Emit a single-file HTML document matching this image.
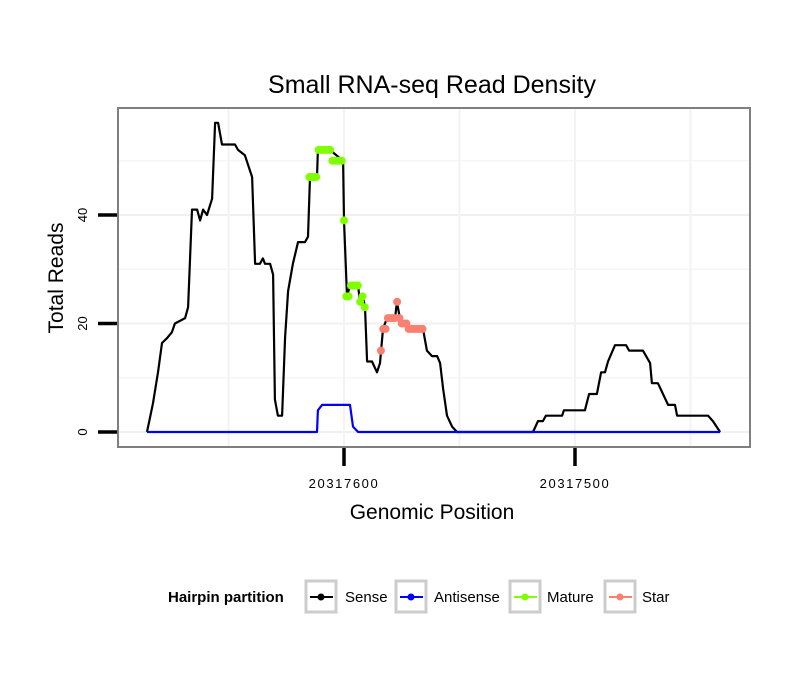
<!DOCTYPE html>
<html><head><meta charset="utf-8"><style>
body{margin:0;background:#fff;}
svg text{font-family:"Liberation Sans",sans-serif;}
</style></head><body>
<svg id="chart" width="810" height="690" xmlns="http://www.w3.org/2000/svg">
<rect width="810" height="690" fill="#fff"/>
<text x="432" y="93" font-size="25" text-anchor="middle">Small RNA-seq Read Density</text>
<g id="grid"></g>
<g id="series"></g>
<rect x="118" y="108" width="632" height="339" fill="none" stroke="#7f7f7f" stroke-width="2"/>
<g id="axes"></g>
<text x="432" y="519" font-size="21" text-anchor="middle">Genomic Position</text>
<text transform="translate(63,278) rotate(-90)" font-size="21" text-anchor="middle">Total Reads</text>
<g>
<text x="168" y="602" font-size="15" font-weight="bold">Hairpin partition</text>
<g><rect x="306" y="581" width="30" height="31" fill="#fff" stroke="#ccc" stroke-width="3"/><line x1="310" y1="597" x2="333" y2="597" stroke="#000" stroke-width="2"/><circle cx="321" cy="597" r="3.5" fill="#000"/><text x="345" y="602" font-size="15">Sense</text></g>
<g><rect x="396" y="581" width="30" height="31" fill="#fff" stroke="#ccc" stroke-width="3"/><line x1="400" y1="597" x2="423" y2="597" stroke="#00f" stroke-width="2"/><circle cx="411" cy="597" r="3.5" fill="#00f"/><text x="434" y="602" font-size="15">Antisense</text></g>
<g><rect x="510" y="581" width="30" height="31" fill="#fff" stroke="#ccc" stroke-width="3"/><line x1="514" y1="597" x2="537" y2="597" stroke="#7fff00" stroke-width="2"/><circle cx="525" cy="597" r="3.5" fill="#7fff00"/><text x="547" y="602" font-size="15">Mature</text></g>
<g><rect x="605" y="581" width="30" height="31" fill="#fff" stroke="#ccc" stroke-width="3"/><line x1="609" y1="597" x2="632" y2="597" stroke="#fa8072" stroke-width="2"/><circle cx="620" cy="597" r="3.5" fill="#fa8072"/><text x="642" y="602" font-size="15">Star</text></g>
</g>
</svg>
<script>
const B = 20317600;
const senseOff = [85.3,82.7,80.5,78.8,76.6,74.5,73.2,68.8,67.5,65.8,63.6,62.3,61.0,59.3,57.1,55.8,54.5,52.8,47.2,45.9,42.9,39.8,38.5,36.4,35.1,34.2,32.0,30.7,29.9,28.6,26.8,25.5,24.2,22.1,19.9,16.9,15.6,14.7,11.7,11.3,6.1,0.4,0,-1.3,-2.6,-6.1,-6.9,-8.2,-9.1,-10,-12.1,-14.3,-15.6,-16.9,-18.6,-22.1,-22.9,-24.2,-25.5,-28.6,-34.2,-35.9,-38.1,-40.3,-41.6,-42.9,-44.6,-46.8,-48.9,-81.8,-84,-86.1,-87.4,-94.4,-95.2,-104.3,-106.1,-109.5,-111.3,-113,-114.3,-117.3,-122.1,-123.4,-129.4,-132.5,-133.3,-135.9,-140.3,-143.3,-144.2,-157.6,-159.7,-162.8];
const senseVal = [0,5.3,11,16.4,17.3,18.4,20,21,23,41,41,39,41,40,43,57,57,53,53,52,51,47,31,31,32,31,31,29,6,3,3,17.5,26,31,35,35,36,47,47,52,52,50,39,25,27,27,24,25,23,13,13,11,12.7,19,21,21,24,21,20,19,19,15,14,14,12.7,8,3,1,0,0,2,2,3,3,4,4,7,7,11,11,13,16,16,15,15,12.7,9,9,5,5,3,3,2,0];
const antiOff = [85.3,11.7,11.3,9.5,-2.6,-3.9,-6.1,-162.8];
const antiVal = [0,0,4,5,5,1,0,0];
const matureOff = [15,14,13,12,11,10,9,8,7,6,5,4,3,2,1,0,-1,-2,-3,-4,-5,-6,-7,-8,-9];
const matureVal = [47,47,47,47,52,52,52,52,52,52,50,50,50,50,50,39,25,25,27,27,27,27,24,25,23];
const starOff = [-16,-17,-18,-19,-20,-21,-22,-23,-24,-25,-26,-27,-28,-29,-30,-31,-32,-33,-34];
const starVal = [15,19,19,21,21,21,21,24,21,20,20,20,19,19,19,19,19,19,19];
const yTicks = [0,20,40];
const xTicks = [20317600,20317500];
const yGrid = [0,10,20,30,40,50];
const xGrid = [20317650,20317600,20317550,20317500,20317450];

const NS = "http://www.w3.org/2000/svg";
const xs = p => 344 + (B - p) * 2.31;
const ys = v => 432 - v * 5.425;
function mk(tag, attrs, parent){const e=document.createElementNS(NS,tag);for(const k in attrs)e.setAttribute(k,attrs[k]);parent.appendChild(e);return e;}
const grid=document.getElementById('grid'), ser=document.getElementById('series'), ax=document.getElementById('axes');

yGrid.forEach(v=>{const l=mk('line',{x1:119,x2:749,y1:ys(v),y2:ys(v),stroke:v%20===0?'#f0f0f0':'#f6f6f6','stroke-width':v%20===0?2:1.5},grid);

});
xGrid.forEach(p=>{const l=mk('line',{x1:xs(p),x2:xs(p),y1:109,y2:446,stroke:'#f3f3f3','stroke-width':2},grid);

});

function line(off,val,color,name){
  const pts=off.map((o,i)=>xs(B+o).toFixed(1)+','+ys(val[i]).toFixed(1)).join(' ');
  const pl=mk('polyline',{points:pts,fill:'none',stroke:color,'stroke-width':2.2,'stroke-linejoin':'round'},ser);
  
  
}
line(senseOff,senseVal,'#000','sense-line');
line(antiOff,antiVal,'#00f','antisense-line');
function dots(off,val,color,name){
  off.forEach((o,i)=>{const c=mk('circle',{cx:xs(B+o),cy:ys(val[i]),r:4,fill:color},ser);
  
  });
}
dots(matureOff,matureVal,'#7fff00','mature-point');
dots(starOff,starVal,'#fa8072','star-point');

yTicks.forEach(v=>{
  const t=mk('line',{x1:98,x2:117,y1:ys(v),y2:ys(v),stroke:'#000','stroke-width':3.5},ax);
  
  
  const tx=mk('text',{transform:`translate(87,${ys(v)}) rotate(-90)`,'font-size':13,'text-anchor':'middle'},ax);
  tx.textContent=v;
  
  
});
xTicks.forEach(p=>{
  const t=mk('line',{x1:xs(p),x2:xs(p),y1:448,y2:466,stroke:'#000','stroke-width':3.5},ax);
  
  
  const tx=mk('text',{x:xs(p),y:488,'font-size':13,'text-anchor':'middle','letter-spacing':1.6},ax);
  tx.textContent=p;
  
  
});
</script>
</body></html>
